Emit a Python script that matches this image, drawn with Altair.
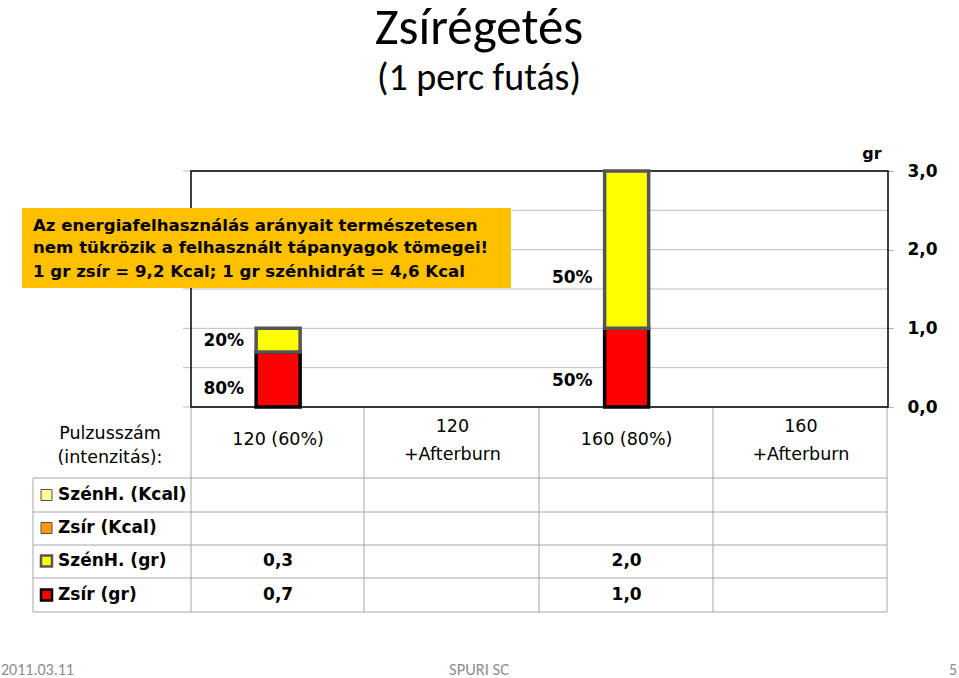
import altair as alt
import pandas as pd

# ---------------- data ----------------
categories = ["120 (60%)", "120 +Afterburn", "160 (80%)", "160 +Afterburn"]
category_lines = [["120 (60%)"], ["120", "+Afterburn"], ["160 (80%)"], ["160", "+Afterburn"]]
series_names = ["SzénH. (Kcal)", "Zsír (Kcal)", "SzénH. (gr)", "Zsír (gr)"]
szenh_kcal = [None, None, None, None]
zsir_kcal = [None, None, None, None]
szenh_gr = [0.3, None, 2.0, None]
zsir_gr = [0.7, None, 1.0, None]
szenh_pct = ["20%", None, "50%", None]
zsir_pct = ["80%", None, "50%", None]
y_ticks = [0, 1, 2, 3]
grid_values = [0, 0.5, 1, 1.5, 2, 2.5, 3]
note_lines = [
    "Az energiafelhasználás arányait természetesen",
    "nem tükrözik a felhasznált tápanyagok tömegei!",
    "1 gr zsír = 9,2 Kcal; 1 gr szénhidrát = 4,6 Kcal",
]
# annotation anchor heights (data units) for the percentage labels
szenh_pct_at = [0.84, None, 1.64, None]
zsir_pct_at = [0.23, None, 0.33, None]

# ---------------- layout ----------------
W, H = 697, 236
PAD = {"left": 191, "top": 171, "right": 959 - 191 - W, "bottom": 678 - 171 - H}
COMIC = "Comic Sans MS, DejaVu Sans"
CAL = "Calibri, Carlito, Lato"
GRID = "#BDBDBD"
TAB = "#A6A6A6"

one = pd.DataFrame({"t": [""]})
xs = alt.X("cat:N", scale=alt.Scale(domain=categories, paddingInner=0, paddingOuter=0), axis=None)
ys = alt.Scale(domain=[0, 3])
yaxis = alt.Axis(orient="right", values=y_ticks, grid=False, domain=False,
                 labelExpr="replace(format(datum.value, '.1f'), '.', ',')",
                 tickSize=5, tickColor="#AAAAAA", tickWidth=1, labelFont=COMIC, labelFontSize=17,
                 labelFontWeight="bold", labelColor="black", labelPadding=14, title=None)


def txt(text, x, y, size, align="center", weight="bold", font=COMIC, color="black", baseline="middle"):
    return alt.Chart(pd.DataFrame({"t": [text]})).mark_text(
        align=align, baseline=baseline, fontSize=size, fontWeight=weight, font=font, color=color
    ).encode(x=alt.value(x), y=alt.value(y), text="t:N")


def hline(x1, x2, y, color=TAB, w=1.0):
    return alt.Chart(one).mark_rule(color=color, strokeWidth=w).encode(
        x=alt.value(x1), x2=alt.value(x2), y=alt.value(y))


def vline(x, y1, y2, color=TAB, w=1.0):
    return alt.Chart(one).mark_rule(color=color, strokeWidth=w).encode(
        x=alt.value(x), y=alt.value(y1), y2=alt.value(y2))


def box(x1, x2, y1, y2, fill, stroke, sw=1.0, opacity=1.0):
    return alt.Chart(one).mark_rect(fill=fill, fillOpacity=opacity, stroke=stroke, strokeWidth=sw).encode(
        x=alt.value(x1), x2=alt.value(x2), y=alt.value(y1), y2=alt.value(y2))


layers = []

# gridlines (with small stubs left of the plot)
grid = alt.Chart(pd.DataFrame({"g": grid_values})).mark_rule(color=GRID, strokeWidth=1).encode(
    x=alt.value(-8), x2=alt.value(W), y=alt.Y("g:Q", scale=ys, axis=yaxis))
layers.append(grid)

# table grid
row_lines = [307, 341, 374, 407, 441]
for y in row_lines:
    layers.append(hline(-158, W - 1, y))
layers.append(vline(-158, 307, 441))
col_bounds = [0, 173, 348, 522, W - 1]
for x in col_bounds:
    layers.append(vline(x, H, 441))

# plot border
layers.append(box(0, W, 0, H, "white", "black", 1.5, 0.0))

# bars
rows = []
for c, z in zip(categories, zsir_gr):
    if z is not None:
        rows.append({"cat": c, "series": "Zsír (gr)", "value": z, "ord": 0})
for c, s in zip(categories, szenh_gr):
    if s is not None:
        rows.append({"cat": c, "series": "SzénH. (gr)", "value": s, "ord": 1})
bars_df = pd.DataFrame(rows)
bars = alt.Chart(bars_df).mark_bar(size=44, strokeWidth=3.5).encode(
    x=xs,
    y=alt.Y("value:Q", stack="zero", scale=ys, axis=yaxis),
    color=alt.Color("series:N", scale=alt.Scale(domain=["Zsír (gr)", "SzénH. (gr)"],
                                                range=["#FF0000", "#FFFF00"]), legend=None),
    stroke=alt.Stroke("series:N", scale=alt.Scale(domain=["Zsír (gr)", "SzénH. (gr)"],
                                                  range=["#000000", "#555555"]), legend=None),
    order=alt.Order("ord:Q"),
)
layers.append(bars)

# percentage labels
pct_rows = []
for c, p, a in zip(categories, szenh_pct, szenh_pct_at):
    if p is not None:
        pct_rows.append({"cat": c, "lab": p, "at": a})
for c, p, a in zip(categories, zsir_pct, zsir_pct_at):
    if p is not None:
        pct_rows.append({"cat": c, "lab": p, "at": a})
pct = alt.Chart(pd.DataFrame(pct_rows)).mark_text(
    align="right", baseline="middle", dx=-34, fontSize=17, fontWeight="bold", font=COMIC, color="black"
).encode(x=xs, y=alt.Y("at:Q", scale=ys, axis=yaxis), text="lab:N")
layers.append(pct)

# orange note box
layers.append(box(-169, 320, 37, 117, "#FFC000", "#FFC000", 0))
for i, line in enumerate(note_lines):
    layers.append(txt(line, -158, [55, 77, 101][i], 16.6, align="left"))

# titles
layers.append(txt("Zsírégetés", 288, 44 - 171, 51, weight="normal", font=CAL, baseline="alphabetic"))
layers.append(txt("(1 perc futás)", 288, 90 - 171, 38, weight="normal", font=CAL, baseline="alphabetic"))
layers.append(txt("gr", 681, -17, 16))

# table header
layers.append(txt("Pulzusszám", -81, 263, 17.5, weight="normal"))
layers.append(txt("(intenzitás):", -81, 287, 17.5, weight="normal"))
hdr = pd.DataFrame({"cat": categories, "lab": category_lines})
hdr1 = hdr[[len(l) == 1 for l in category_lines]].assign(t=lambda d: d["lab"].str[0])
hdr2 = hdr[[len(l) == 2 for l in category_lines]]
layers.append(alt.Chart(hdr1).mark_text(baseline="middle", fontSize=17.5, font=COMIC, color="black").encode(
    x=xs, y=alt.value(269), text="t:N"))
layers.append(alt.Chart(hdr2.assign(t=lambda d: d["lab"].str[0])).mark_text(
    baseline="middle", fontSize=17.5, font=COMIC, color="black").encode(x=xs, y=alt.value(256), text="t:N"))
layers.append(alt.Chart(hdr2.assign(t=lambda d: d["lab"].str[1])).mark_text(
    baseline="middle", fontSize=17.5, font=COMIC, color="black").encode(x=xs, y=alt.value(284), text="t:N"))

# table rows
row_centers = [324, 357, 390, 424]
swatch_fill = ["#FFFF99", "#FF9900", "#FFFF00", "#FF0000"]
swatch_stroke = ["#555555", "#555555", "#555555", "#000000"]
swatch_w = [1, 1, 2.5, 2.5]
row_values = [szenh_kcal, zsir_kcal, szenh_gr, zsir_gr]
for i, name in enumerate(series_names):
    yc = row_centers[i]
    layers.append(box(-150, -139, yc - 5.5, yc + 5.5, swatch_fill[i], swatch_stroke[i], swatch_w[i]))
    layers.append(txt(name, -133, yc, 17, align="left"))
    vals = [(c, v) for c, v in zip(categories, row_values[i]) if v is not None]
    if vals:
        vdf = pd.DataFrame({"cat": [c for c, _ in vals],
                            "t": [f"{v:.1f}".replace(".", ",") for _, v in vals]})
        layers.append(alt.Chart(vdf).mark_text(baseline="middle", fontSize=17, fontWeight="bold",
                                               font=COMIC, color="black").encode(
            x=xs, y=alt.value(yc), text="t:N"))

# footer
FOOT = "#8C8C8C"
layers.append(txt("2011.03.11", -190, 499, 16, align="left", weight="normal", font=CAL, color=FOOT))
layers.append(txt("SPURI SC", 288, 499, 16.5, weight="normal", font=CAL, color=FOOT))
layers.append(txt("5", 766, 499, 16, align="right", weight="normal", font=CAL, color=FOOT))

chart = alt.layer(*layers).properties(
    width=W, height=H, padding=PAD, autosize=alt.AutoSizeParams(type="none"),
    background="white",
).configure_view(stroke=None)

chart.save("out.html", embed_options={"renderer": "svg", "actions": False})
